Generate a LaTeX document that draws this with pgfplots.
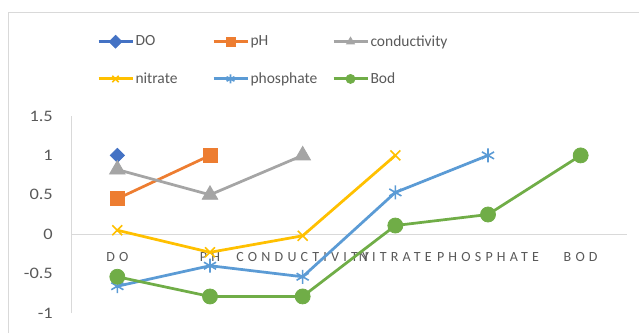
\documentclass[border=0pt]{standalone}
\usepackage{fontspec}
\setmainfont{Carlito}
\usepackage{pgfplots}
\pgfplotsset{compat=1.18}
\newfontfamily\tickfont[FakeStretch=1.15]{Carlito}
\newfontfamily\catfont[LetterSpace=30]{Carlito}
\definecolor{cDO}{HTML}{4472C4}
\definecolor{cPH}{HTML}{ED7D31}
\definecolor{cCond}{HTML}{A5A5A5}
\definecolor{cNit}{HTML}{FFC000}
\definecolor{cPho}{HTML}{5B9BD5}
\definecolor{cBod}{HTML}{70AD47}
\definecolor{txt}{HTML}{595959}
\definecolor{frm}{HTML}{D9D9D9}
\begin{document}
\begin{tikzpicture}
\useasboundingbox (0,0) rectangle (639pt,333pt);
\draw[frm, line width=1pt] (8pt,0pt) -- (8pt,321pt) -- (639pt,321pt);
\begin{axis}[
  at={(71pt,20pt)}, anchor=south west,
  scale only axis, width=556pt, height=197pt,
  xmin=-0.5, xmax=5.5, ymin=-1, ymax=1.5,
  clip=false,
  axis line style={draw=none},
  major tick length=0pt,
  xtick={0,1,2,3,4,5},
  xticklabels={DO,PH,CONDUCTIVITY,NITRATE,PHOSPHATE,BOD},
  ytick={-1,-0.5,0,0.5,1,1.5},
  yticklabels={-1,-0.5,0,0.5,1,1.5},
  xticklabel style={font=\catfont\fontsize{14}{16}\selectfont, text=txt, anchor=center, yshift=56pt},
  yticklabel style={font=\tickfont\fontsize{16}{19}\selectfont, text=txt, anchor=east, inner sep=0pt, xshift=-18pt},
  legend columns=3,
  legend cell align=left,
  legend style={at={(0.0468,1.416)}, anchor=north west, draw=none, fill=none,
    inner sep=0pt, outer sep=0pt, row sep=22pt,
    font=\fontsize{15.5}{18}\selectfont, text=txt,
    nodes={inner sep=1.5pt}},
  legend image code/.code={\draw[#1, line width=3pt, mark size=4.5pt, mark repeat=2, mark phase=2] plot coordinates {(0pt,0pt) (17pt,0pt) (34pt,0pt)};},
  every axis plot/.append style={line width=2.75pt},
]
\draw[frm, line width=1pt] (axis cs:-0.5,-1) -- (axis cs:-0.5,1.5);
\draw[frm, line width=1pt] (axis cs:-0.5,0) -- (axis cs:5.5,0);

\addplot[cDO, mark=square*, mark size=5pt, mark options={solid, rotate=45, line width=0.8pt}] coordinates {(0,1)};
\addlegendentry{\makebox[75pt][l]{DO}}
\addplot[cPH, mark=square*, mark size=7pt, mark options={solid, line width=0.8pt}] coordinates {(0,0.45) (1,1)};
\addlegendentry{\makebox[80pt][l]{pH}}
\addplot[cCond, mark=triangle*, mark size=9pt, mark options={solid, line width=0.8pt}] coordinates {(0,0.82) (1,0.5) (2,1)};
\addlegendentry{conductivity}
\addplot[cNit, mark=x, mark size=7pt, mark options={solid, line width=1.6pt}] coordinates {(0,0.05) (1,-0.23) (2,-0.02) (3,1)};
\addlegendentry{\makebox[75pt][l]{nitrate}}
\addplot[cPho, mark=asterisk, mark size=7pt, mark options={solid, line width=1.6pt}] coordinates {(0,-0.66) (1,-0.40) (2,-0.54) (3,0.53) (4,1)};
\addlegendentry{\makebox[80pt][l]{phosphate}}
\addplot[cBod, mark=*, mark size=7.5pt, mark options={solid, line width=0.8pt}] coordinates {(0,-0.54) (1,-0.79) (2,-0.79) (3,0.11) (4,0.25) (5,1)};
\addlegendentry{Bod}
\end{axis}
\end{tikzpicture}
\end{document}
